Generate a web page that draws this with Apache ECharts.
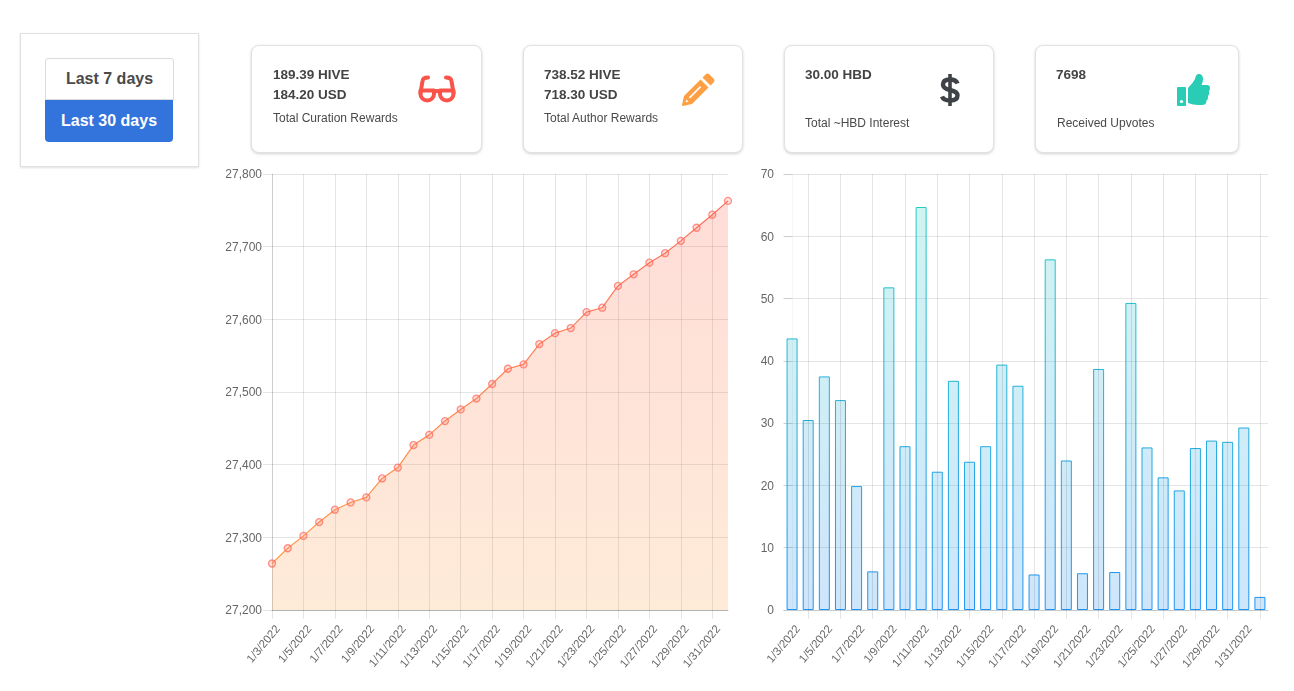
<!DOCTYPE html>
<html>
<head>
<meta charset="utf-8">
<script src="https://cdn.jsdelivr.net/npm/echarts@6/dist/echarts.min.js"></script>
<style>
html,body{margin:0;padding:0;background:#fff;font-family:"Liberation Sans",Arial,sans-serif;color:#4a4a4a}
#chart{position:absolute;left:0;top:0;width:1294px;height:691px}
.panel{position:absolute;left:20px;top:33px;width:177px;height:132px;border:1px solid #e0e0e0;box-shadow:0 1px 2px rgba(0,0,0,.12);background:#fff}
.btn{position:absolute;box-sizing:border-box;text-align:center;font-weight:bold;font-size:16px}
.b7{left:45px;top:58px;width:129px;height:42px;line-height:40px;border:1px solid #dbdbdb;border-radius:3px 3px 0 0;background:#fff;color:#4a4a4a}
.b30{left:45px;top:100px;width:128px;height:42px;line-height:42px;background:#3273dc;color:#fff;border-radius:0 0 4px 4px}
.card{position:absolute;top:45px;box-sizing:border-box;height:108px;border:1px solid #e2e2e2;border-radius:8px;background:#fff;box-shadow:0 1px 3px rgba(0,0,0,.18)}
.t{position:absolute;white-space:nowrap;line-height:16px}
.v{font-weight:bold;font-size:13.5px;color:#444}
.s{font-size:12px;color:#4a4a4a}
svg{position:absolute;overflow:visible}
</style>
</head>
<body>
<div id="chart"></div>
<div class="panel"></div>
<div class="btn b7">Last 7 days</div>
<div class="btn b30">Last 30 days</div>

<div class="card" style="left:251px;width:231px"></div>
<div class="t v" style="left:273px;top:67px">189.39 HIVE</div>
<div class="t v" style="left:273px;top:87px">184.20 USD</div>
<div class="t s" style="left:273px;top:110px">Total Curation Rewards</div>
<svg style="left:418px;top:75px" width="38" height="28" viewBox="0 0 38 28">
  <g fill="none" stroke="#f9534a" stroke-width="4" stroke-linecap="round" stroke-linejoin="round">
    <path d="M2.500 18 L4.500 6 Q5 2.500 10 2.500"/><path d="M35.500 18 L33.500 6 Q33 2.500 28 2.500"/>
    <path d="M2.500 15.500 H16 V19 A6.750 6.500 0 0 1 2.500 19 Z"/><path d="M22 15.500 H35.500 V19 A6.750 6.500 0 0 1 22 19 Z"/>
    <path d="M16 17 Q19 15 22 17"/>
  </g>
</svg>

<div class="card" style="left:523px;width:220px"></div>
<div class="t v" style="left:544px;top:67px">738.52 HIVE</div>
<div class="t v" style="left:544px;top:87px">718.30 USD</div>
<div class="t s" style="left:544px;top:110px">Total Author Rewards</div>
<svg style="left:682px;top:73px" width="33" height="33" viewBox="0 0 33 33">
  <path fill="#ff9f43" d="M24 1 Q25.500 0 27 1 L32 6 Q33 7.500 32 9 L28.500 12.500 L20.500 4.500 Z M18.500 6.500 L26.500 14.500 L10 31 L1 33 Q0 33 0 32 L2 23 Z"/>
  <path fill="#fff" d="M18 13 L19.200 14.200 L8 25.500 L6.800 24.300 Z M4.500 26.500 L6.500 28.500 L3.500 29.500 Z"/>
</svg>

<div class="card" style="left:784px;width:210px"></div>
<div class="t v" style="left:805px;top:67px">30.00 HBD</div>
<div class="t s" style="left:805px;top:115px">Total ~HBD Interest</div>
<svg style="left:940px;top:73px" width="20" height="34" viewBox="0 0 20 34">
  <g fill="none" stroke="#3f4347" stroke-width="4.400">
    <path d="M17.500 10.500 Q16 6.500 10 6.500 Q3 6.500 3 11.500 Q3 15.500 10 17 Q17.500 18.500 17.500 22.500 Q17.500 27.500 10 27.500 Q3.500 27.500 2 23.500"/>
    <path d="M10 1 V33" stroke-width="3.600"/>
  </g>
</svg>

<div class="card" style="left:1035px;width:204px"></div>
<div class="t v" style="left:1056px;top:67px">7698</div>
<div class="t s" style="left:1057px;top:115px">Received Upvotes</div>
<svg style="left:1177px;top:73px" width="33" height="34" viewBox="0 0 33 34">
  <path fill="#29cdb5" d="M0 15 Q0 14 1 14 H8 Q9 14 9 15 V32 Q9 33 8 33 H1 Q0 33 0 32 Z"/>
  <circle cx="4.500" cy="28.500" r="1.600" fill="#fff"/>
  <path fill="#29cdb5" d="M11 15 Q16 10 18 6 Q19 1 21.500 1 Q26 1 26 6 Q26 9 24.500 12 H30 Q33 12 33 15 Q33 17 32 18 Q33 21 31 23 Q31.500 26 29.500 27.500 Q29.500 32 25 32 H21 Q16 32 11 30 Z"/>
</svg>

<script>
var categories = ["1/3/2022","1/4/2022","1/5/2022","1/6/2022","1/7/2022","1/8/2022","1/9/2022","1/10/2022","1/11/2022","1/12/2022","1/13/2022","1/14/2022","1/15/2022","1/16/2022","1/17/2022","1/18/2022","1/19/2022","1/20/2022","1/21/2022","1/22/2022","1/23/2022","1/24/2022","1/25/2022","1/26/2022","1/27/2022","1/28/2022","1/29/2022","1/30/2022","1/31/2022","2/1/2022"];
var lineValues = [27264,27285,27302,27321,27338,27348,27355,27381,27396,27427,27441,27460,27476,27491,27511,27532,27538,27566,27581,27588,27610,27616,27646,27662,27678,27691,27708,27726,27744,27763];
var barValues = [43.6,30.5,37.5,33.7,19.9,6.2,51.8,26.3,64.7,22.2,36.8,23.8,26.3,39.4,36.0,5.7,56.3,24.0,5.9,38.7,6.1,49.3,26.1,21.3,19.2,26.0,27.2,27.0,29.3,2.1];
var barLabelIndexes = [0,2,4,6,8,10,12,14,16,18,20,22,24,26,28];
var barTickIndexes = [1,3,5,7,9,11,13,15,17,19,21,23,25,27,29];

var TOP = 174, BOTTOM = 610;
function grad(top, bottom) {
  return {type:'linear', x:0, y:TOP, x2:0, y2:BOTTOM, global:true,
    colorStops:[{offset:0,color:top},{offset:1,color:bottom}]};
}
var GRID = 'rgba(0,0,0,0.10)', DARK = 'rgba(0,0,0,0.22)';
var fontFamily = '"Liberation Sans",Arial,sans-serif';
var yLabel = {color:'#666', fontSize:12, fontFamily:fontFamily, margin:10, verticalAlign:'top', lineHeight:2};
var xLabel = {color:'#666', fontSize:11.5, fontFamily:fontFamily, rotate:50, margin:12, verticalAlign:'top', lineHeight:16};

var chart = echarts.init(document.getElementById('chart'), null, {renderer:'canvas', width:1294, height:691});
chart.setOption({
  animation:false,
  backgroundColor:'#fff',
  grid:[
    {left:272, top:TOP, width:456, height:BOTTOM-TOP},
    {left:784, top:TOP, width:484, height:BOTTOM-TOP}
  ],
  xAxis:[
    {type:'category', gridIndex:0, data:categories, boundaryGap:false,
      axisLine:{show:true, lineStyle:{color:DARK}},
      axisTick:{show:true, interval:1, length:9, lineStyle:{color:GRID}},
      splitLine:{show:true, interval:1, lineStyle:{color:GRID}},
      axisLabel:Object.assign({interval:1}, xLabel)},
    {type:'value', gridIndex:1, min:-0.5, max:29.5, z:3,
      axisLine:{show:true, onZero:false, lineStyle:{color:'#c3c8cc'}},
      axisTick:{show:true, length:9, customValues:barTickIndexes, lineStyle:{color:GRID}},
      splitLine:{show:true, lineStyle:{color:GRID}},
      axisLabel:Object.assign({customValues:barLabelIndexes,
        formatter:function(v){return categories[v];}}, xLabel)}
  ],
  yAxis:[
    {type:'value', gridIndex:0, min:27200, max:27800, interval:100,
      axisLine:{show:true, lineStyle:{color:'rgba(0,0,0,0.10)'}},
      axisTick:{show:true, length:9, lineStyle:{color:GRID}},
      splitLine:{show:true, lineStyle:{color:GRID}},
      axisLabel:Object.assign({formatter:function(v){return v.toLocaleString('en-US');}}, yLabel)},
    {type:'value', gridIndex:1, min:0, max:70, interval:10,
      axisLine:{show:true, lineStyle:{color:'rgba(0,0,0,0.04)'}},
      axisTick:{show:true, length:9, lineStyle:{color:GRID}},
      splitLine:{show:true, lineStyle:{color:GRID}},
      axisLabel:yLabel}
  ],
  series:[
    {type:'line', xAxisIndex:0, yAxisIndex:0, data:lineValues, smooth:false,
      symbol:'circle', symbolSize:7, showSymbol:true,
      lineStyle:{width:1.2, color:grad('#ff6a5c','#ffa24a')},
      itemStyle:{color:grad('rgba(255,90,78,0.18)','rgba(255,162,74,0.18)'), borderWidth:1.3, borderColor:grad('rgba(255,100,85,0.7)','rgba(255,165,80,0.75)')},
      areaStyle:{color:grad('rgba(252,80,60,0.2)','rgba(252,160,70,0.21)'), origin:'start', opacity:1}},
    {type:'bar', xAxisIndex:1, yAxisIndex:1, barWidth:11,
      data:barValues.map(function(v,i){return [i,v];}),
      itemStyle:{color:grad('rgba(43,208,190,0.22)','rgba(30,140,240,0.22)'), borderWidth:1, borderColor:grad('#25cfc0','#1f93f2')}}
  ]
});
</script>
</body>
</html>
